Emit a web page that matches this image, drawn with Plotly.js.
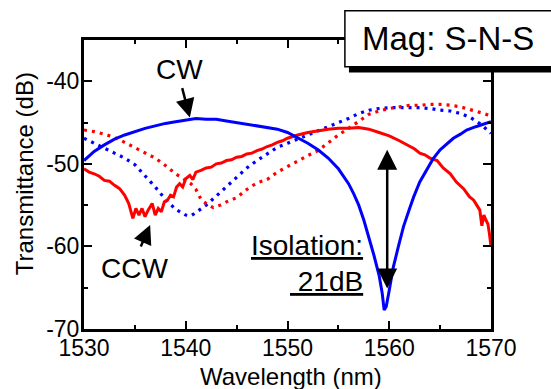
<!DOCTYPE html>
<html>
<head>
<meta charset="utf-8">
<script src="https://cdn.plot.ly/plotly-3.0.1.min.js"></script>
<style>html,body{margin:0;padding:0;background:#fff;}#chart{width:551px;height:389px;}</style>
</head>
<body>
<div id="chart"></div>
<script>
// CW (solid blue)
const cwSolidX = [1530,1531,1532,1533,1534,1535,1536,1537,1538,1539,1540,1541,1542,1543,1544,1545,1546,1547,1548,1549,1550,1551,1552,1553,1554,1555,1556,1556.5,1557,1557.5,1558,1558.5,1559,1559.3,1559.5,1559.7,1560,1560.4,1560.9,1561.4,1562,1562.4,1563,1563.7,1564.3,1565,1565.6,1566.3,1567,1567.6,1568.5,1569.2,1570];
const cwSolidY = [-49.6,-48.5,-47.7,-47.0,-46.5,-46.1,-45.7,-45.4,-45.1,-44.9,-44.7,-44.5,-44.6,-44.6,-44.8,-45.0,-45.2,-45.4,-45.6,-45.8,-46.2,-46.8,-47.5,-48.3,-49.3,-50.6,-52.4,-53.6,-55.0,-56.8,-58.8,-61.1,-63.5,-65.6,-67.7,-67.3,-65.3,-62.5,-60.0,-57.6,-55.4,-54.0,-52.2,-50.7,-49.4,-48.3,-47.6,-46.9,-46.4,-45.9,-45.5,-45.2,-44.9];

// CW (dotted blue)
const cwDotX = [1530,1531,1532,1533,1534,1535,1536,1537,1538,1539,1540,1540.5,1541,1542,1543,1544,1545,1546,1547,1548,1549,1550,1551,1552,1553,1554,1555,1556,1557,1558,1559,1560,1561,1562,1563,1564,1565,1566,1567,1568,1569,1570];
const cwDotY = [-46.9,-47.5,-48.0,-48.6,-49.3,-50.1,-51.4,-52.8,-54.3,-55.5,-56.2,-56.3,-55.9,-55.0,-53.9,-52.8,-51.6,-50.5,-49.6,-48.8,-48.0,-47.5,-47.0,-46.5,-46.0,-45.5,-45.0,-44.5,-43.9,-43.5,-43.3,-43.2,-43.2,-43.2,-43.2,-43.3,-43.5,-43.6,-43.9,-44.4,-45.2,-46.3];

// CCW (solid red)
const ccwSolidX = [1530,1530.5,1531,1531.5,1532,1532.5,1533,1533.5,1534,1534.4,1534.8,1535.1,1535.4,1535.7,1536,1536.3,1536.7,1537,1537.3,1537.6,1537.9,1538.2,1538.5,1538.8,1539.1,1539.4,1539.7,1540,1540.4,1540.7,1541,1541.5,1542,1542.5,1543,1543.5,1544,1544.5,1545,1545.5,1546,1546.5,1547,1547.5,1548,1548.5,1549,1549.5,1550,1551,1552,1553,1554,1555,1556,1557,1558,1559,1560,1561,1562,1562.5,1563,1563.5,1564,1564.7,1565.3,1566,1566.6,1567.3,1567.9,1568.3,1568.6,1568.9,1569.1,1569.3,1569.5,1569.7,1569.85,1570];
const ccwSolidY = [-50.6,-51.0,-51.2,-51.5,-52.0,-52.1,-52.6,-53.0,-53.8,-54.8,-56.6,-55.4,-56.2,-55.4,-56.4,-55.6,-54.8,-56.2,-55.4,-55.8,-54.6,-54.4,-53.8,-54.0,-52.8,-52.4,-52.8,-51.8,-51.4,-51.9,-51.0,-50.8,-50.5,-50.4,-50.0,-49.9,-49.6,-49.5,-49.2,-49.1,-48.8,-48.7,-48.4,-48.2,-47.9,-47.7,-47.4,-47.2,-46.9,-46.5,-46.2,-46.0,-45.8,-45.7,-45.7,-45.6,-45.8,-46.2,-46.6,-47.2,-47.9,-48.2,-48.7,-48.9,-49.3,-49.6,-50.5,-51.2,-52.2,-53.0,-54.0,-54.4,-55.0,-55.6,-57.5,-56.2,-56.8,-57.3,-58.5,-60.0];

// CCW (dotted red)
const ccwDotX = [1530,1531,1532,1533,1534,1535,1536,1537,1538,1539,1540,1540.5,1541,1541.5,1542,1542.7,1543.4,1544,1545,1546,1547,1548,1549,1550,1551,1552,1553,1554,1555,1556,1557,1558,1559,1560,1561,1562,1563,1564,1565,1566,1567,1568,1569,1570];
const ccwDotY = [-45.9,-46.1,-46.4,-46.8,-47.4,-48.0,-48.6,-49.3,-50.2,-51.2,-52.0,-52.4,-53.1,-54.3,-54.8,-55.3,-55.0,-54.6,-54.1,-53.1,-52.3,-51.9,-51.0,-50.3,-49.6,-49.0,-48.4,-47.4,-46.5,-45.7,-44.8,-44.0,-43.6,-43.3,-43.1,-42.9,-42.9,-42.8,-42.8,-42.9,-43.1,-43.4,-43.8,-44.2];

const xTicks = [1530,1540,1550,1560,1570];
const yTicks = [-70,-60,-50,-40];

const BLUE = '#0000ff', RED = '#ff0000';
const FONT = 'Liberation Sans, Arial, sans-serif';

const traces = [
  {x: cwDotX, y: cwDotY, mode:'lines', line:{color:BLUE, width:3.2, dash:'3px,5px'}},
  {x: ccwDotX, y: ccwDotY, mode:'lines', line:{color:RED, width:3.2, dash:'3px,5px'}},
  {x: ccwSolidX, y: ccwSolidY, mode:'lines', line:{color:RED, width:3}},
  {x: cwSolidX, y: cwSolidY, mode:'lines', line:{color:BLUE, width:3}}
];

const axisCommon = {
  showline:true, linecolor:'#000', linewidth:3, mirror:'ticks',
  ticks:'inside', ticklen:8, tickwidth:2, tickcolor:'#000',
  showgrid:false, zeroline:false,
  tickfont:{family:FONT, size:23, color:'#000'}
};

const layout = {
  width:551, height:389,
  margin:{l:84, r:60, t:40, b:60},
  paper_bgcolor:'#fff', plot_bgcolor:'#fff',
  showlegend:false,
  xaxis: Object.assign({}, axisCommon, {
    range:[1530,1570], tickmode:'array', tickvals:xTicks, ticktext:xTicks.map(String),
    ticklabelstandoff:-4,
    minor:{dtick:5, ticklen:4, tickwidth:2, ticks:'inside', tickcolor:'#000'}
  }),
  yaxis: Object.assign({}, axisCommon, {
    range:[-70,-35], tickmode:'array', tickvals:yTicks, ticktext:yTicks.map(String),
    ticklabelstandoff:-3,
    minor:{dtick:5, ticklen:4, tickwidth:2, ticks:'inside', tickcolor:'#000'}
  }),
  shapes:[
    {type:'rect', xref:'paper', yref:'paper', x0:0.651, x1:1.2, y0:0.8875, y1:1.09, fillcolor:'#000', line:{width:0}, layer:'above'},
    {type:'rect', xref:'paper', yref:'paper', x0:0.641, x1:1.2, y0:0.9076, y1:1.101, fillcolor:'#fff', line:{color:'#000', width:1.5}, layer:'above'}
  ],
  annotations:[
    {xref:'paper', yref:'paper', x:0.894, y:1.005, text:'Mag: S-N-S', showarrow:false, font:{family:FONT, size:33, color:'#000'}, xanchor:'center', yanchor:'middle'},
    {xref:'paper', yref:'paper', x:0.509, y:-0.164, text:'Wavelength (nm)', showarrow:false, font:{family:FONT, size:24, color:'#000'}, xanchor:'center', yanchor:'middle'},
    {xref:'paper', yref:'paper', x:-0.147, y:0.536, text:'Transmittance (dB)', textangle:-90, showarrow:false, font:{family:FONT, size:24, color:'#000'}, xanchor:'center', yanchor:'middle'},
    {x:1539.4, y:-38.6, text:'CW', showarrow:false, font:{family:FONT, size:28, color:'#000'}},
    {x:1540.4, y:-44.4, text:'', showarrow:true, ax:-8, ay:-31, arrowhead:2, arrowsize:1.5, arrowwidth:2.5, arrowcolor:'#000'},
    {x:1535.0, y:-62.7, text:'CCW', showarrow:false, font:{family:FONT, size:28, color:'#000'}},
    {x:1536.5, y:-57.4, text:'', showarrow:true, ax:-10, ay:23, arrowhead:2, arrowsize:1.5, arrowwidth:2.5, arrowcolor:'#000'},
    {x:1559.8, y:-65.1, ax:1559.8, ay:-48.1, axref:'x', ayref:'y', text:'', showarrow:true, arrowside:'end+start', arrowhead:2, startarrowhead:2, arrowsize:1.6, startarrowsize:1.6, arrowwidth:2.5, arrowcolor:'#000'},
    {x:1557.6, y:-59.9, text:'<u>Isolation:</u>', showarrow:false, xanchor:'right', font:{family:FONT, size:28, color:'#000'}},
    {x:1557.6, y:-64.2, text:'<u>\u00a021dB</u>', showarrow:false, xanchor:'right', font:{family:FONT, size:28, color:'#000'}}
  ]
};

Plotly.newPlot('chart', traces, layout, {staticPlot:true, displayModeBar:false});
</script>
</body>
</html>
